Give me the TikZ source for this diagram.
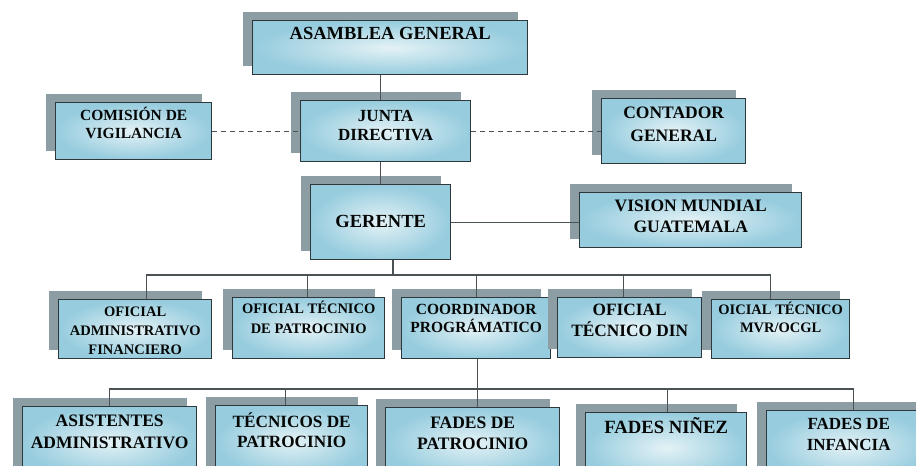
\documentclass[tikz,border=0pt]{standalone}
\usepackage{fontspec}
\setmainfont{Liberation Serif}
\usetikzlibrary{positioning,shadows}
\definecolor{boxlight}{RGB}{228,242,246}
\definecolor{boxdark}{RGB}{150,204,222}
\definecolor{shadowgray}{RGB}{140,158,164}
\definecolor{edgegray}{RGB}{45,55,60}
\definecolor{linegray}{RGB}{75,82,86}
\begin{document}
\begin{tikzpicture}[x=1pt,y=-1pt]
        \tikzset{box/.style={draw=edgegray, line width=1.4pt, inner sep=0pt, anchor=north west, inner color=boxlight, outer color=boxdark, drop shadow={shadow xshift=-10pt, shadow yshift=9pt, fill=shadowgray, opacity=1}},
                 lbl/.style={inner sep=0pt, align=center, text=black!90!edgegray},
                 wire/.style={draw=linegray, line width=1.2pt},
                 dwire/.style={wire, line width=1.4pt, dash pattern=on 5pt off 4pt}}
        \clip (0,0) rectangle (916,466);
        %
        \node[box, minimum width=275pt, minimum height=54pt] (AG) at (252,20) {};
        \node[box, minimum width=156pt, minimum height=57pt] (CV) at (55,102) {};
        \node[box, minimum width=170pt, minimum height=61pt] (JD) at (300,100) {};
        \node[box, minimum width=144pt, minimum height=65pt] (CG) at (601,98) {};
        \node[box, minimum width=140pt, minimum height=75pt] (GE) at (310,184) {};
        \node[box, minimum width=222pt, minimum height=55pt] (VM) at (579,192) {};
        %
        \node[box, minimum width=153pt, minimum height=59pt] (OA) at (58,299) {};
        \node[box, minimum width=152pt, minimum height=61pt] (OT) at (232,297) {};
        \node[box, minimum width=149pt, minimum height=61pt] (CP) at (401,297) {};
        \node[box, minimum width=144pt, minimum height=60pt] (OD) at (557,297) {};
        \node[box, minimum width=138pt, minimum height=59pt] (OM) at (711,299) {};
        %
        \node[box, minimum width=174pt, minimum height=70pt] (AA) at (22,406) {};
        \node[box, minimum width=152pt, minimum height=70pt] (TP) at (215,405) {};
        \node[box, minimum width=174pt, minimum height=70pt] (FP) at (385,407) {};
        \node[box, minimum width=161pt, minimum height=70pt] (FN) at (585,412) {};
        \node[box, minimum width=164pt, minimum height=70pt] (FI) at (766,410) {};
        %
        \node[lbl, font=\bfseries\fontsize{18.5}{22}\selectfont, below=7pt of AG.north] (AGt) {ASAMBLEA GENERAL};
        \node[lbl, font=\bfseries\fontsize{15.5}{18}\selectfont, below=5pt of CV.north] (CVt) {COMISIÓN DE\\VIGILANCIA};
        \node[lbl, font=\bfseries\fontsize{17}{19}\selectfont, below=10pt of JD.north] (JDt) {JUNTA\\DIRECTIVA};
        \node[lbl, font=\bfseries\fontsize{17.5}{23}\selectfont, below=9pt of CG.north] (CGt) {CONTADOR\\GENERAL};
        \node[lbl, font=\bfseries\fontsize{18.5}{22}\selectfont, below=31pt of GE.north] (GEt) {GERENTE};
        \node[lbl, font=\bfseries\fontsize{17.5}{21}\selectfont, below=8pt of VM.north] (VMt) {VISION MUNDIAL\\GUATEMALA};
        %
        \node[lbl, font=\bfseries\fontsize{14.5}{19}\selectfont, below=8pt of OA.north] (OAt) {OFICIAL\\ADMINISTRATIVO\\FINANCIERO};
        \node[lbl, font=\bfseries\fontsize{14.5}{19.5}\selectfont, below=4pt of OT.north] (OTt) {OFICIAL TÉCNICO\\DE PATROCINIO};
        \node[lbl, font=\bfseries\fontsize{15.5}{18.5}\selectfont, below=7pt of CP.north] (CPt) {COORDINADOR\\PROGRÁMATICO};
        \node[lbl, font=\bfseries\fontsize{17.3}{21}\selectfont, below=7pt of OD.north] (ODt) {OFICIAL\\TÉCNICO DIN};
        \node[lbl, font=\bfseries\fontsize{14.5}{18}\selectfont, below=3pt of OM.north] (OMt) {OICIAL TÉCNICO\\MVR/OCGL};
        %
        \node[lbl, font=\bfseries\fontsize{17.5}{22}\selectfont, below=9pt of AA.north] (AAt) {ASISTENTES\\ADMINISTRATIVO};
        \node[lbl, font=\bfseries\fontsize{17.2}{20}\selectfont, below=8pt of TP.north] (TPt) {TÉCNICOS DE\\PATROCINIO};
        \node[lbl, font=\bfseries\fontsize{17.5}{21}\selectfont, below=10pt of FP.north] (FPt) {FADES DE\\PATROCINIO};
        \node[lbl, font=\bfseries\fontsize{18.7}{22}\selectfont, below=5.5pt of FN.north] (FNt) {FADES NIÑEZ};
        \node[lbl, font=\bfseries\fontsize{17}{21}\selectfont, below=8pt of FI.north] (FIt) {FADES DE\\INFANCIA};
        %
        \draw[wire] (GE.north |- AG.south) -- (GE.north |- JD.north);
        \draw[wire] (GE.north |- JD.south) -- (GE.north);
        \draw[dwire] (CV.east) -- (JD.west);
        \draw[dwire] (JD.east) -- (CG.west);
        \draw[wire] (GE.east) -- (GE.east -| VM.west);
        %
        \coordinate (b3) at (393,275);
        \draw[wire] (GE.south -| b3) -- (b3);
        \draw[wire] ([xshift=11.5pt]OA.north) |- (b3) -| ([xshift=-10pt]OM.north);
        \draw[wire] ([xshift=-1pt]OT.north) -- ([xshift=-1pt]OT.north |- b3);
        \draw[wire] (CP.north) -- (CP.north |- b3);
        \draw[wire] ([xshift=-6pt]OD.north) -- ([xshift=-6pt]OD.north |- b3);
        %
        \coordinate (b4) at (477,389);
        \draw[wire] ([xshift=1.5pt]CP.south) -- ([xshift=1.5pt]CP.south |- FP.north);
        \draw[wire] (AA.north) |- (b4) -| ([xshift=5pt]FI.north);
        \draw[wire] ([xshift=-6pt]TP.north) -- ([xshift=-6pt]TP.north |- b4);
        \draw[wire] ([xshift=1.5pt]FN.north) -- ([xshift=1.5pt]FN.north |- b4);
\end{tikzpicture}
\end{document}
